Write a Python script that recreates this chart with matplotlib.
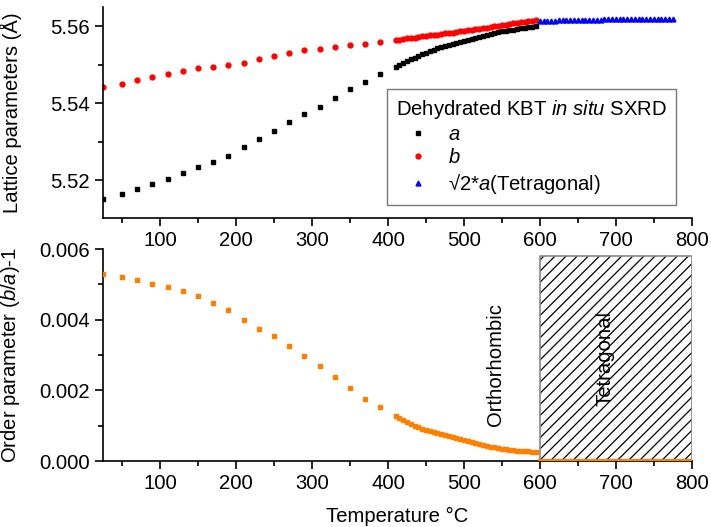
import numpy as np
import matplotlib
matplotlib.use('Agg')
import matplotlib.pyplot as plt
from matplotlib.ticker import MultipleLocator

plt.rcParams['font.family'] = ['Liberation Sans', 'DejaVu Sans']
plt.rcParams['font.size'] = 14.6
plt.rcParams['mathtext.fontset'] = 'custom'
plt.rcParams['mathtext.rm'] = 'Liberation Sans'
plt.rcParams['mathtext.it'] = 'Liberation Sans:italic'
plt.rcParams['hatch.linewidth'] = 0.9

# orthorhombic lattice parameters
temp_ortho = [25, 50, 70, 90, 110, 130, 150, 170, 190, 210, 230, 250, 270, 290, 310, 330, 350, 370, 390,
              410, 415, 420, 425, 430, 435, 440, 445, 450, 455, 460, 465, 470, 475, 480, 485, 490, 495,
              500, 505, 510, 515, 520, 525, 530, 535, 540, 545, 550, 555, 560, 565, 570, 575, 580, 585,
              590, 595]
a_param = [5.5150, 5.5163, 5.5177, 5.5190, 5.5204, 5.5218, 5.5233, 5.5247, 5.5264, 5.5286, 5.5307,
           5.5327, 5.5352, 5.5372, 5.5391, 5.5414, 5.5436, 5.5456, 5.5477,
           5.5494, 5.5499, 5.5504, 5.5510, 5.5515, 5.5519, 5.5524, 5.5528, 5.5532, 5.5536, 5.5539,
           5.5543, 5.5546, 5.5549, 5.5552, 5.5555, 5.5558, 5.5560, 5.5563, 5.5566, 5.5568, 5.5571,
           5.5573, 5.5575, 5.5578, 5.5580, 5.5582, 5.5585, 5.5587, 5.5589, 5.5590, 5.5592, 5.5594,
           5.5595, 5.5597, 5.5598, 5.5599, 5.5600]
b_param = [5.5442, 5.5451, 5.5460, 5.5468, 5.5476, 5.5484, 5.5491, 5.5495, 5.5500, 5.5506, 5.5514,
           5.5524, 5.5532, 5.5538, 5.5542, 5.5547, 5.5553, 5.5555, 5.5559,
           5.5564, 5.5566, 5.5567, 5.5569, 5.5570, 5.5571, 5.5573, 5.5574, 5.5575, 5.5577, 5.5578,
           5.5579, 5.5580, 5.5582, 5.5583, 5.5584, 5.5586, 5.5587, 5.5588, 5.5590, 5.5591, 5.5593,
           5.5594, 5.5596, 5.5597, 5.5599, 5.5600, 5.5602, 5.5604, 5.5605, 5.5607, 5.5608, 5.5610,
           5.5611, 5.5612, 5.5614, 5.5615, 5.5616]
order_param = [0.00529, 0.00520, 0.00511, 0.00502, 0.00492, 0.00480, 0.00466, 0.00448, 0.00427,
               0.00400, 0.00375, 0.00353, 0.00325, 0.00297, 0.00268, 0.00239, 0.00206, 0.00177, 0.00152,
               0.00127, 0.00121, 0.00115, 0.00110, 0.00105, 0.00100, 0.00096, 0.00092, 0.00089, 0.00086,
               0.00083, 0.00080, 0.00077, 0.00074, 0.00071, 0.00068, 0.00065, 0.00062, 0.00059, 0.00056,
               0.00053, 0.00050, 0.00048, 0.00046, 0.00043, 0.00041, 0.00039, 0.00037, 0.00035, 0.00034,
               0.00032, 0.00031, 0.00030, 0.00029, 0.00028, 0.00028, 0.00027, 0.00026]

# tetragonal phase
temp_tet = [600, 605, 610, 615, 620, 625, 630, 635, 640, 645, 650, 655, 660, 665, 670, 675, 680, 685,
            690, 695, 700, 705, 710, 715, 720, 725, 730, 735, 740, 745, 750, 755, 760, 765, 770, 775]
a_tet = [5.5613, 5.5614, 5.5614, 5.5615, 5.5615, 5.5616, 5.5616, 5.5616, 5.5617, 5.5617, 5.5617,
         5.5617, 5.5618, 5.5618, 5.5618, 5.5618, 5.5618, 5.5619, 5.5619, 5.5619, 5.5619, 5.5619,
         5.5619, 5.5619, 5.5620, 5.5620, 5.5620, 5.5620, 5.5620, 5.5620, 5.5620, 5.5620, 5.5620,
         5.5620, 5.5620, 5.5620]
temp_zero = [600, 610, 620, 630, 640, 650, 660, 670, 680, 690, 700, 710, 720, 730, 740, 750, 760,
             770, 780, 790, 800]
order_zero = [0.0] * len(temp_zero)

fig = plt.figure(figsize=(7.11, 5.27), dpi=100)
ax1 = fig.add_axes([0.145, 0.586, 0.828, 0.401])
ax2 = fig.add_axes([0.145, 0.125, 0.828, 0.4025])

for ax in (ax1, ax2):
    ax.spines['top'].set_visible(False)
    ax.spines['right'].set_visible(False)
    ax.set_xlim(25, 800)
    ax.xaxis.set_major_locator(MultipleLocator(100))
    ax.xaxis.set_minor_locator(MultipleLocator(50))
    ax.tick_params(which='major', length=6, width=1.2)
    ax.tick_params(which='minor', length=3.5, width=1.2)
    ax.spines['left'].set_linewidth(1.2)
    ax.spines['bottom'].set_linewidth(1.2)

ax1.plot(temp_ortho, a_param, 's', color='black', markersize=3.2, label='$a$')
ax1.plot(temp_ortho, b_param, 'o', color='red', markersize=3.5, label='$b$')
ax1.plot(temp_tet, a_tet, '^', color='blue', markersize=3.5, label='√2*$a$(Tetragonal)')
ax1.set_ylim(5.5101, 5.5651)
ax1.yaxis.set_major_locator(MultipleLocator(0.02))
ax1.yaxis.set_minor_locator(MultipleLocator(0.01))
ax1.yaxis.set_major_formatter(matplotlib.ticker.FormatStrFormatter('%.2f'))
ax1.set_ylabel('Lattice parameters (Å)')
ax1.yaxis.set_label_coords(-0.138, 0.5)
leg = ax1.legend(title='Dehydrated KBT $in\\ situ$ SXRD', loc='lower right',
                 bbox_to_anchor=(0.973, 0.062), fancybox=False, edgecolor='#777777',
                 framealpha=1, borderpad=0.45, labelspacing=0.2, handletextpad=0.4,
                 handlelength=2.2, borderaxespad=0, alignment='left')
leg.get_frame().set_linewidth(1.0)

# hatched tetragonal region: black hatch, grey outline
ax2.fill_between([600, 800], 0, 0.0058, facecolor='white', edgecolor='black',
                 hatch='///', linewidth=0, zorder=1)
ax2.fill_between([600, 800], 0, 0.0058, facecolor='none', edgecolor='#888888',
                 linewidth=1.2, zorder=2)
ax2.plot(temp_ortho, order_param, 's', color='#ff8000', markersize=3.4, zorder=3)
ax2.plot(temp_zero, order_zero, '-', color='#ff8000', linewidth=3, zorder=3)
ax2.set_ylim(0, 0.006)
ax2.yaxis.set_major_locator(MultipleLocator(0.002))
ax2.yaxis.set_minor_locator(MultipleLocator(0.001))
ax2.yaxis.set_major_formatter(matplotlib.ticker.FormatStrFormatter('%.3f'))
ax2.set_ylabel('Order parameter ($b$/$a$)-1')
ax2.yaxis.set_label_coords(-0.138, 0.5)
ax2.set_xlabel('Temperature °C', labelpad=10)
ax2.text(542, 0.00272, 'Orthorhombic', rotation=90, ha='center', va='center')
ax2.text(686, 0.00291, 'Tetragonal', rotation=90, ha='center', va='center', zorder=4)

fig.savefig('out.png', dpi=100)
